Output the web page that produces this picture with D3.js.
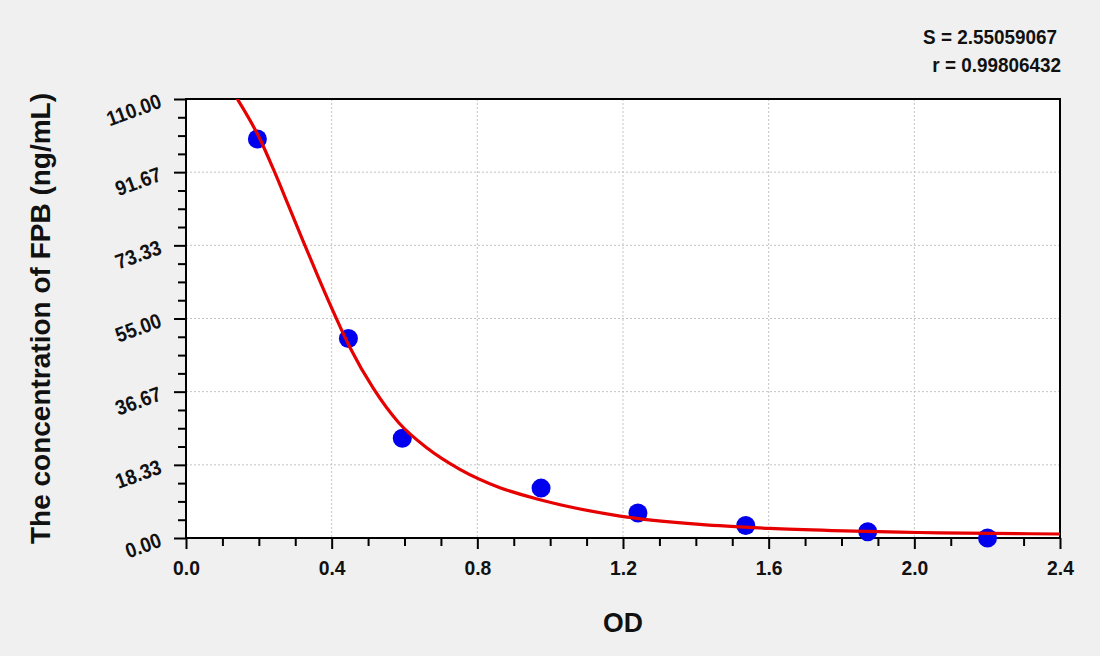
<!DOCTYPE html>
<html lang="en">
<head>
    <meta charset="UTF-8">
    <title>FPB standard curve</title>
    <script src="https://d3js.org/d3.v7.min.js"></script>
    <style>
        body { margin: 0; background: #f0f0f0; }
        text { font-family: "Liberation Sans", Arial, sans-serif; font-weight: bold; fill: #111; }
    </style>
</head>
<body>
    <script>
// standard points (OD vs concentration)
var pointOD = [0.196, 0.446, 0.594, 0.975, 1.241, 1.537, 1.872, 2.201];
var pointConc = [100, 50, 25, 12.5, 6.25, 3.12, 1.56, 0];

// fitted curve
var curveOD = [0.139, 0.204, 0.240, 0.281, 0.323, 0.364, 0.410, 0.451, 0.515, 0.583, 0.661, 0.752, 0.862, 0.972, 1.192, 1.411, 1.603, 1.777, 1.960, 2.069, 2.400];
var curveConc = [110.3, 99.8, 92.4, 83.4, 74.1, 65.2, 55.6, 47.6, 37.4, 29.0, 22.6, 17.2, 12.6, 9.6, 5.5, 3.4, 2.4, 1.85, 1.45, 1.3, 1.0];

var xTicks = [0.0, 0.4, 0.8, 1.2, 1.6, 2.0, 2.4];
var xMinor = [0.1, 0.2, 0.3, 0.5, 0.6, 0.7, 0.9, 1.0, 1.1, 1.3, 1.4, 1.5, 1.7, 1.8, 1.9, 2.1, 2.2, 2.3];
var yTicks = [0, 18.33, 36.67, 55, 73.33, 91.67, 110];
var yTickLabels = ['0.00', '18.33', '36.67', '55.00', '73.33', '91.67', '110.00'];
var yMinor = [4.58, 9.17, 13.75, 22.92, 27.5, 32.08, 41.25, 45.83, 50.42, 59.58, 64.17, 68.75, 77.92, 82.5, 87.08, 96.25, 100.83, 105.42];

var statLines = ['S = 2.55059067', 'r = 0.99806432'];

var width = 1100;
var height = 656;
var margin = { left: 186, top: 99, right: 40, bottom: 118 };
var plotW = width - margin.left - margin.right;
var plotH = height - margin.top - margin.bottom;

var svg = d3.select('body')
            .append('svg')
            .attr('width', width)
            .attr('height', height);

svg.append('rect')
   .attr('width', width)
   .attr('height', height)
   .attr('fill', '#f0f0f0');

var g = svg.append('g')
           .attr('transform', 'translate(' + margin.left + ',' + margin.top + ')');

var x = d3.scaleLinear().domain([0, 2.4]).range([0, plotW]);
var y = d3.scaleLinear().domain([0, 110]).range([plotH, 0]);

// plot background
g.append('rect')
 .attr('width', plotW)
 .attr('height', plotH)
 .attr('fill', '#fff');

g.append('clipPath')
 .attr('id', 'clip')
 .append('rect')
 .attr('width', plotW)
 .attr('height', plotH);

// dotted grid
g.selectAll('.vgrid')
 .data(xTicks.slice(1, -1))
 .enter().append('line')
 .attr('x1', function(d) { return x(d); })
 .attr('x2', function(d) { return x(d); })
 .attr('y1', 0)
 .attr('y2', plotH)
 .attr('stroke', '#c4c4c4')
 .attr('stroke-dasharray', '2,2');

g.selectAll('.hgrid')
 .data(yTicks.slice(1, -1))
 .enter().append('line')
 .attr('x1', 0)
 .attr('x2', plotW)
 .attr('y1', function(d) { return y(d); })
 .attr('y2', function(d) { return y(d); })
 .attr('stroke', '#c4c4c4')
 .attr('stroke-dasharray', '2,2');

// x axis
var xAxis = g.append('g')
             .attr('transform', 'translate(0,' + plotH + ')')
             .call(d3.axisBottom(x).tickValues(xTicks).tickSize(11).tickFormat(d3.format('.1f')));
xAxis.selectAll('text')
     .attr('y', 37)
     .attr('dy', 0)
     .attr('transform', 'scale(0.92,1)')
     .style('font-size', '21px');

g.append('g')
 .attr('transform', 'translate(0,' + plotH + ')')
 .call(d3.axisBottom(x).tickValues(xMinor).tickSize(8).tickFormat(''));

// y axis
var yAxis = g.append('g')
             .call(d3.axisLeft(y).tickValues(yTicks).tickSize(12)
                     .tickFormat(function(d, i) { return yTickLabels[i]; }));
yAxis.selectAll('text')
     .attr('x', 0)
     .attr('dy', 0)
     .attr('transform', 'translate(-23,7.5) rotate(-20) scale(0.9,1)')
     .style('font-size', '21px');

g.append('g')
 .call(d3.axisLeft(y).tickValues(yMinor).tickSize(8).tickFormat(''));

g.selectAll('.domain').remove();
g.selectAll('.tick line').attr('stroke', '#000').attr('stroke-width', 2);

// frame
g.append('rect')
 .attr('width', plotW)
 .attr('height', plotH)
 .attr('fill', 'none')
 .attr('stroke', '#000')
 .attr('stroke-width', 2);

// fitted curve
var line = d3.line()
             .x(function(d, i) { return x(curveOD[i]); })
             .y(function(d) { return y(d); })
             .curve(d3.curveMonotoneX);

// points
g.selectAll('.pt')
 .data(pointConc)
 .enter().append('circle')
 .attr('cx', function(d, i) { return x(pointOD[i]); })
 .attr('cy', function(d) { return y(d); })
 .attr('r', 9.5)
 .attr('fill', '#0000ee');

g.append('path')
 .datum(curveConc)
 .attr('clip-path', 'url(#clip)')
 .attr('d', line)
 .attr('fill', 'none')
 .attr('stroke', '#e60000')
 .attr('stroke-width', 3.2);

// axis titles
svg.append('text')
   .attr('transform', 'translate(' + (margin.left + plotW / 2) + ',632) scale(0.95,1)')
   .attr('text-anchor', 'middle')
   .style('font-size', '28px')
   .text('OD');

svg.append('text')
   .attr('transform', 'translate(50,' + (margin.top + plotH / 2) + ') rotate(-90)')
   .attr('text-anchor', 'middle')
   .style('font-size', '28px')
   .text('The concentration of FPB (ng/mL)');

// fit statistics
svg.selectAll('.stat')
   .data(statLines)
   .enter().append('text')
   .attr('transform', function(d, i) {
       return 'translate(' + (i === 0 ? 1057 : 1061) + ',' + (43.5 + i * 28) + ') scale(0.9,1)';
   })
   .attr('text-anchor', 'end')
   .style('font-size', '21px')
   .text(function(d) { return d; });
    </script>
</body>
</html>
